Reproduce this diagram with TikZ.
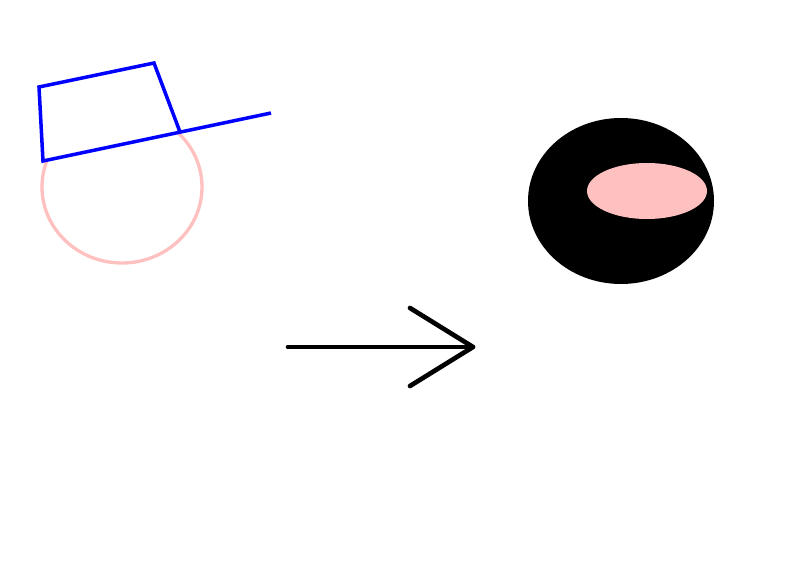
\documentclass[tikz,border=0pt]{standalone}
\usepackage{tikz}
\usetikzlibrary{positioning}
\usetikzlibrary{calc}
\definecolor{softpink}{RGB}{255,192,192}
\tikzset{
  hatline/.style={draw=blue, line width=0.105cm, line join=miter},
  headline/.style={draw=softpink, line width=0.1cm},
  bigarrow/.style={draw=black, line width=0.14cm, line cap=round, line join=round}
}

\begin{document}
\begin{tikzpicture}[x=0.03cm, y=-0.03cm]

    \useasboundingbox (0,0) rectangle (800,566);

    % left figure: head under the hat
    \coordinate (BrimLeft) at (43,161);
    \coordinate (BrimRight) at (271,113);
    \coordinate (CrownLeft) at (39,87);
    \coordinate (CrownRight) at (154,63);
    \coordinate (CrownFoot) at (180,132);
    \begin{scope}
      \clip ($(BrimLeft)!-1!(BrimRight)$) -- ($(BrimRight)!-1!(BrimLeft)$)
        -- (800,566) -- (0,566) -- cycle;
      \draw[headline] (122,187) ellipse [x radius=80, y radius=76];
    \end{scope}
    \draw[hatline] (BrimRight) -- (BrimLeft) -- (CrownLeft)
      -- (CrownRight) -- (CrownFoot);

    % the arrow
    \coordinate (ArrowTail) at (288,347);
    \coordinate (ArrowTip) at (473,347);
    \coordinate (BarbUp) at (410,308);
    \coordinate (BarbDown) at (410,386);
    \draw[bigarrow] (ArrowTail) -- (ArrowTip);
    \draw[bigarrow] (BarbUp) -- (ArrowTip) -- (BarbDown);

    % right figure
    \fill[black] (621,201) ellipse [x radius=93, y radius=83];
    \fill[softpink] (647,191) ellipse [x radius=60, y radius=28];

  \end{tikzpicture}
\end{document}
